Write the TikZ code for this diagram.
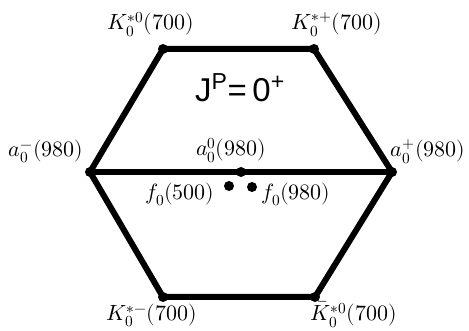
\documentclass[tikz,border=0pt]{standalone}
\usepackage{fontspec}
\usepackage{unicode-math}
\setmathfont{Latin Modern Math}
\newfontfamily\arialfont{Liberation Sans}
\begin{document}
\begin{tikzpicture}[x=1pt,y=-1pt,
  edge/.style={line width=6pt,line join=round},
  vdot/.style={circle,fill=black,inner sep=0pt,minimum size=10pt},
  lbl/.style={inner sep=0pt,anchor=base,font=\fontsize{22}{24}\selectfont}]
\useasboundingbox (0,0) rectangle (469,331);
\coordinate (tl) at (163,49);
\coordinate (tr) at (314,49);
\coordinate (l) at (90,172);
\coordinate (r) at (392,172);
\coordinate (bl) at (163,297);
\coordinate (br) at (315,297);
\coordinate (c) at (241,172);
\draw[edge] (tl) -- (tr) -- (r) -- (br) -- (bl) -- (l) -- cycle;
\draw[edge] (l) -- (r);
\foreach \p in {tl,tr,l,r,bl,br,c} \node[vdot] at (\p) {};
\node[vdot] (f1) at (229,186) {};
\node[vdot] (f2) at (252,187) {};
\node[lbl] (ktl) at (151,30) {$K_0^{*0}(700)$};
\node[lbl] (ktr) at (337,30) {$K_0^{*+}(700)$};
\node[lbl] (al) at (46,157) {$a_0^-(980)$};
\node[lbl] (ac) at (231,156) {$a_0^0(980)$};
\node[lbl] (ar) at (428,157) {$a_0^+(980)$};
\node[lbl] (fa) at (180,200) {$f_0(500)$};
\node[lbl] (fb) at (296,200) {$f_0(980)$};
\node[lbl] (kbl) at (152,321) {$K_0^{*-}(700)$};
\node[lbl] (kbr) at (354,321) {$\bar K_0^{*0}(700)$};
\node[inner sep=0pt,font=\arialfont\fontsize{33}{36}\selectfont] (jp) at (240,88) {J\textsuperscript{P}=\,0\textsuperscript{+}};
\end{tikzpicture}
\end{document}
